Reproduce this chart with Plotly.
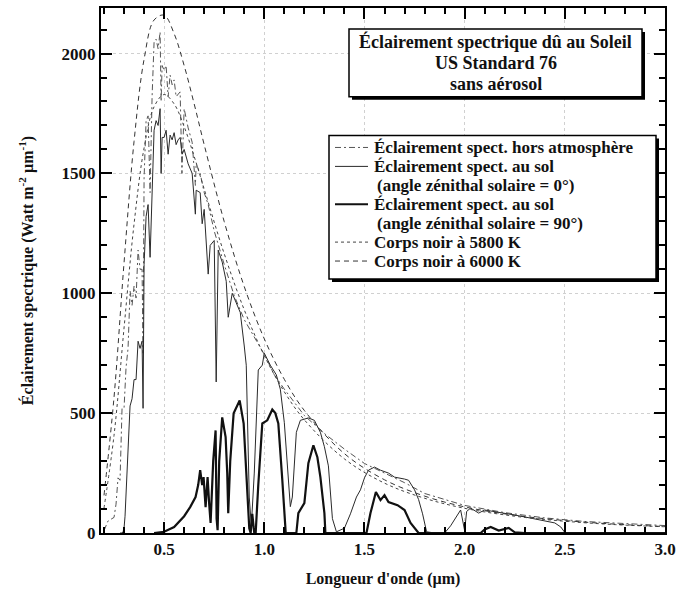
import plotly.graph_objects as go

# ---------------- data ----------------
wl_bb = [0.20, 0.25, 0.30, 0.35, 0.40, 0.45, 0.50, 0.55, 0.60, 0.65, 0.70, 0.80, 0.90,
         1.00, 1.10, 1.20, 1.40, 1.60, 1.80, 2.00, 2.25, 2.50, 2.75, 3.00]
bb_5800 = [104, 407, 855, 1289, 1606, 1778, 1829, 1790, 1695, 1571, 1435, 1165, 931,
           740, 589, 472, 309, 208, 145, 103, 70, 49, 35, 26]
bb_6000 = [157, 566, 1127, 1634, 1976, 2140, 2160, 2083, 1950, 1790, 1620, 1299, 1028,
           810, 641, 511, 331, 222, 154, 109, 74, 52, 37, 27]

wl_et = [0.20, 0.21, 0.22, 0.23, 0.24, 0.25, 0.26, 0.27, 0.28, 0.29, 0.30, 0.31, 0.32,
         0.33, 0.34, 0.35, 0.36, 0.37, 0.38, 0.39, 0.395, 0.40, 0.41, 0.42, 0.43, 0.44,
         0.45, 0.46, 0.47, 0.48, 0.485, 0.49, 0.50, 0.51, 0.52, 0.53, 0.54, 0.55, 0.56,
         0.57, 0.58, 0.589, 0.60, 0.62, 0.64, 0.656, 0.66, 0.68, 0.70, 0.72, 0.75, 0.80,
         0.85, 0.90, 0.95, 1.00, 1.05, 1.10, 1.20, 1.30, 1.40, 1.50, 1.60, 1.70, 1.80,
         1.90, 2.00, 2.20, 2.40, 2.60, 2.80, 3.00]
et = [10, 30, 50, 55, 60, 65, 120, 230, 220, 520, 520, 690, 770,
      1010, 950, 1030, 980, 1180, 1100, 1100, 750, 1480, 1720, 1740, 1420, 1820,
      2050, 2060, 2020, 2090, 1800, 1950, 1930, 1950, 1820, 1910, 1870, 1890, 1820,
      1830, 1840, 1500, 1770, 1690, 1630, 1450, 1540, 1500, 1420, 1370, 1260, 1120,
      990, 890, 820, 745, 660, 600, 490, 415, 350, 290, 250, 210, 165,
      140, 115, 85, 63, 48, 38, 31]

wl_g0 = [0.28, 0.29, 0.295, 0.30, 0.305, 0.31, 0.32, 0.33, 0.34, 0.35, 0.36, 0.37, 0.38,
         0.39, 0.395, 0.40, 0.41, 0.42, 0.43, 0.44, 0.45, 0.46, 0.47, 0.48, 0.485, 0.49,
         0.50, 0.51, 0.52, 0.53, 0.54, 0.55, 0.56, 0.57, 0.58, 0.59, 0.60, 0.62, 0.64,
         0.656, 0.66, 0.68, 0.69, 0.70, 0.72, 0.73, 0.75, 0.76, 0.77, 0.79, 0.81, 0.82,
         0.84, 0.86, 0.88, 0.90, 0.91, 0.925, 0.935, 0.94, 0.95, 0.97, 0.99, 1.00, 1.03,
         1.06, 1.08, 1.10, 1.12, 1.13, 1.14, 1.16, 1.18, 1.22, 1.25, 1.28, 1.30, 1.32,
         1.34, 1.36, 1.40, 1.43, 1.46, 1.48, 1.50, 1.52, 1.55, 1.58, 1.62, 1.65, 1.70,
         1.72, 1.75, 1.77, 1.79, 1.81, 1.85, 1.90, 1.93, 1.96, 1.98, 2.00, 2.01, 2.03,
         2.07, 2.10, 2.17, 2.25, 2.33, 2.40, 2.45, 2.48, 2.50, 2.60, 3.00]
g0 = [0, 0, 5, 20, 70, 150, 330, 530, 560, 640, 640, 800, 770,
      800, 520, 1120, 1320, 1370, 1150, 1470, 1680, 1720, 1700, 1770, 1500, 1650,
      1650, 1680, 1580, 1660, 1640, 1670, 1620, 1640, 1650, 1580, 1600, 1540, 1500,
      1330, 1430, 1420, 1290, 1350, 1080, 1200, 1220, 630, 1180, 1130, 1050, 900,
      1000, 960, 920, 780, 700, 150, 30, 100, 250, 680, 700, 750, 700,
      660, 600, 460, 250, 110, 150, 420, 470, 480, 470, 420, 360, 280,
      60, 5, 20, 80, 150, 180, 230, 262, 275, 262, 250, 233, 225,
      220, 180, 140, 80, 5, 0, 0, 30, 70, 96, 10, 90, 104,
      83, 96, 87, 75, 62, 50, 42, 25, 2, 0, 0]

wl_g90 = [0.45, 0.50, 0.55, 0.58, 0.60, 0.63, 0.657, 0.67, 0.68, 0.69, 0.697, 0.707,
          0.717, 0.725, 0.732, 0.745, 0.757, 0.762, 0.767, 0.775, 0.79, 0.807, 0.815,
          0.82, 0.83, 0.847, 0.865, 0.877, 0.897, 0.915, 0.925, 0.932, 0.94, 0.95,
          0.957, 0.97, 0.99, 1.015, 1.04, 1.055, 1.07, 1.09, 1.107, 1.16, 1.17, 1.20,
          1.22, 1.245, 1.265, 1.28, 1.30, 1.305, 1.51, 1.53, 1.557, 1.58, 1.60, 1.62,
          1.665, 1.70, 1.73, 1.77, 2.08, 2.10, 2.13, 2.17, 2.22, 2.25, 2.30, 3.00]
g90 = [0, 5, 25, 54, 70, 108, 150, 200, 262, 200, 233, 108,
       233, 120, 42, 300, 428, 60, 12, 300, 482, 400, 250,
       83, 300, 499, 530, 553, 457, 150, 20, 0, 80, 0,
       0, 200, 457, 470, 515, 500, 457, 220, 0, 0, 83, 125,
       291, 366, 316, 233, 83, 0, 0, 83, 171, 137, 158, 129,
       116, 96, 42, 0, 0, 15, 25, 10, 21, 3, 0, 0]

names = [
    "Éclairement spect. hors atmosphère",
    "Éclairement spect. au sol",
    "Éclairement spect. au sol",
    "Corps noir à 5800 K",
    "Corps noir à 6000 K",
]
name_notes = ["", "(angle zénithal solaire = 0°)", "(angle zénithal solaire = 90°)", "", ""]
box_lines = ["Éclairement spectrique dû au Soleil", "US Standard 76", "sans aérosol"]
x_title = "Longueur d'onde (µm)"
y_title = "Éclairement spectrique (Watt m<sup>-2</sup> µm<sup>-1</sup>)"

# ---------------- figure ----------------
FONT = "Liberation Serif"
INK = "#111111"
W, H = 692, 593
ML, MR, MT, MB = 101, 27, 6, 60
PW, PH = W - ML - MR, H - MT - MB


def px(xp):
    return (xp - ML) / PW


def py(yp):
    return 1 - (yp - MT) / PH


styles = [
    dict(color="#555555", width=1, dash="6px,3px,2px,3px"),
    dict(color="#2a2a2a", width=1),
    dict(color=INK, width=2.2),
    dict(color="#444444", width=1, dash="dot"),
    dict(color="#333333", width=1, dash="5px,4px"),
]
series = [(wl_et, et), (wl_g0, g0), (wl_g90, g90), (wl_bb, bb_5800), (wl_bb, bb_6000)]

fig = go.Figure()
for i, ((xs, ys), st) in enumerate(zip(series, styles)):
    line = dict(st)
    if i >= 3:
        line["shape"] = "spline"
    fig.add_trace(go.Scatter(x=xs, y=ys, mode="lines", name=names[i] +
                             (" " + name_notes[i] if name_notes[i] else ""),
                             line=line, showlegend=False))

axis_common = dict(
    showline=True, linecolor="black", linewidth=2, mirror="ticks",
    ticks="inside", ticklen=11, tickwidth=1.5, tickcolor="black",
    showgrid=True, gridcolor="#d0d0d0", griddash="dot", gridwidth=1,
    zeroline=False,
    tickfont=dict(family=FONT, size=17, color=INK, weight="bold"),
)

fig.update_xaxes(range=[0.185, 3.0], tick0=0, dtick=0.5, tickformat=".1f",
                 minor=dict(dtick=0.1, ticks="inside", ticklen=6, tickcolor="black",
                            showgrid=False),
                 title=dict(text=x_title,
                            font=dict(family=FONT, size=16, color=INK, weight="bold"),
                            standoff=14),
                 **axis_common)
fig.update_yaxes(range=[0, 2190], tick0=0, dtick=500,
                 minor=dict(dtick=100, ticks="inside", ticklen=6, tickcolor="black",
                            showgrid=False),
                 title=dict(text=y_title,
                            font=dict(family=FONT, size=16, color=INK, weight="bold"),
                            standoff=24),
                 **axis_common)

# boxes (title box and legend frame) with a small drop shadow
SH = 3
for (l, t, r, b) in [(349, 27, 642, 95), (329, 134, 656, 278)]:
    fig.add_shape(type="rect", xref="paper", yref="paper", layer="above",
                  x0=px(l + SH), x1=px(r + SH), y0=py(b + SH), y1=py(t + SH),
                  fillcolor="black", line=dict(width=0))
    fig.add_shape(type="rect", xref="paper", yref="paper", layer="above",
                  x0=px(l), x1=px(r), y0=py(b), y1=py(t),
                  fillcolor="white", line=dict(color="black", width=1.5))

for txt, yc in zip(box_lines, [40, 61, 82]):
    fig.add_annotation(
        xref="paper", yref="paper", x=px(495.5), y=py(yc),
        xanchor="center", yanchor="middle",
        text=txt, showarrow=False,
        font=dict(family=FONT, size=18, color=INK, weight="bold"),
    )

# legend (key lines + labels) laid out inside the framed box
LEG_TOP, LEG_STEP = 146, 19
row = 0
for i in range(len(names)):
    yc = LEG_TOP + row * LEG_STEP
    fig.add_shape(type="line", xref="paper", yref="paper", layer="above",
                  x0=px(335), x1=px(368), y0=py(yc), y1=py(yc),
                  line=styles[i])
    fig.add_annotation(xref="paper", yref="paper", x=px(372), y=py(yc),
                       xanchor="left", yanchor="middle", text=names[i],
                       showarrow=False,
                       font=dict(family=FONT, size=17, color=INK, weight="bold"))
    row += 1
    if name_notes[i]:
        yc = LEG_TOP + row * LEG_STEP
        fig.add_annotation(xref="paper", yref="paper", x=px(375), y=py(yc),
                           xanchor="left", yanchor="middle", text=name_notes[i],
                           showarrow=False,
                           font=dict(family=FONT, size=17, color=INK, weight="bold"))
        row += 1

fig.update_layout(
    width=W, height=H,
    margin=dict(l=ML, r=MR, t=MT, b=MB),
    paper_bgcolor="white", plot_bgcolor="white",
    font=dict(family=FONT, color=INK),
    showlegend=False,
)

fig.write_html("out.html", config={"displayModeBar": False},
               post_script="document.body.style.margin='0';")
